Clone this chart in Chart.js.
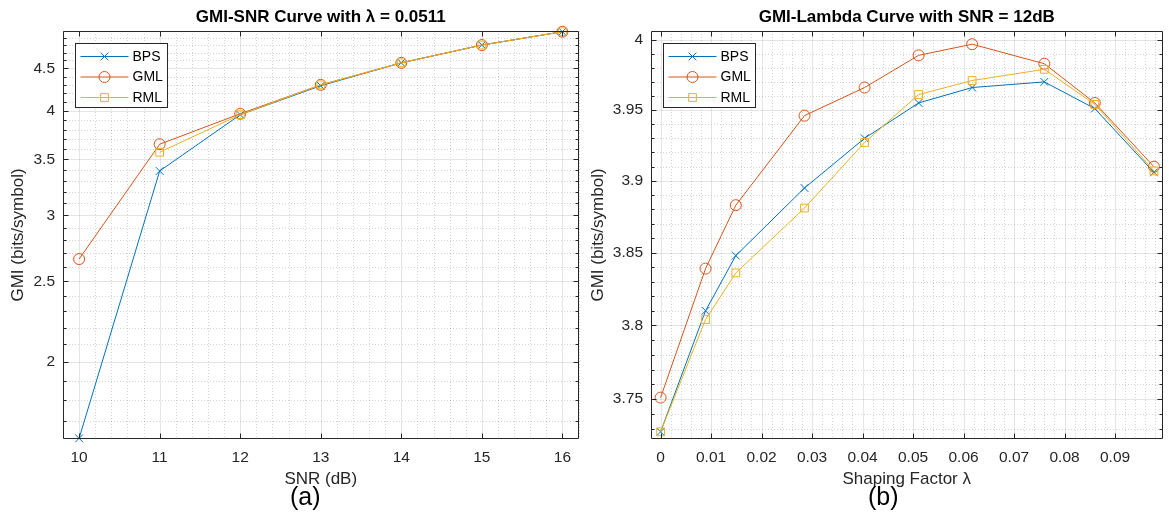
<!DOCTYPE html>
<html>
<head>
<meta charset="utf-8">
<script src="https://cdn.jsdelivr.net/npm/chart.js@4.4.1/dist/chart.umd.min.js"></script>
<style>
  body { margin: 0; background: #fff; width: 1169px; height: 516px; position: relative; overflow: hidden; font-family: 'Liberation Sans', Arial, sans-serif; }
  .panel { position: absolute; top: 0; height: 516px; }
  #wrapA { left: 0; width: 585px; }
  #wrapB { left: 585px; width: 584px; }
  .cap { position: absolute; top: 484px; font-size: 25px; line-height: 25px; color: #000; }
  #capA { left: 290px; }
  #capB { left: 868px; }
</style>
</head>
<body>
<div class="panel" id="wrapA"><canvas id="snrChart"></canvas></div>
<div class="panel" id="wrapB"><canvas id="lambdaChart"></canvas></div>
<div class="cap" id="capA">(a)</div>
<div class="cap" id="capB">(b)</div>
<script>
// (a) GMI vs SNR, lambda = 0.0511
const snrValues = [10, 11, 12, 13, 14, 15, 16];
const snrBPS = [1.62, 3.39, 3.96, 4.29, 4.57, 4.80, 4.98];
const snrGML = [2.658, 3.65, 3.97, 4.30, 4.57, 4.80, 4.98];
const snrRML = [null, 3.57, 3.96, 4.30, 4.57, 4.80, 4.98];
const snrTicks = [10, 11, 12, 13, 14, 15, 16];
const snrGmiTicks = [2, 2.5, 3, 3.5, 4, 4.5];

// (b) GMI vs shaping factor, SNR = 12dB
const lambdaValues = [0, 0.0089, 0.0149, 0.0285, 0.0404, 0.0511, 0.0617, 0.0760, 0.0860, 0.0977];
const lambdaBPS = [3.728, 3.810, 3.848, 3.895, 3.930, 3.955, 3.966, 3.970, 3.951, 3.906];
const lambdaGML = [3.751, 3.839, 3.883, 3.946, 3.966, 3.989, 3.997, 3.983, 3.955, 3.910];
const lambdaRML = [3.728, 3.804, 3.836, 3.881, 3.927, 3.961, 3.971, 3.979, 3.954, 3.907];
const lambdaTicks = [0, 0.01, 0.02, 0.03, 0.04, 0.05, 0.06, 0.07, 0.08, 0.09];
const lambdaGmiTicks = [3.75, 3.8, 3.85, 3.9, 3.95, 4];

const seriesNames = ['BPS', 'GML', 'RML'];
const seriesColors = ['#0072BD', '#D95319', '#EDB120'];
const seriesMarkers = ['crossRot', 'circle', 'rect'];

Chart.defaults.font.family = "'Liberation Sans', Arial, Helvetica, sans-serif";
Chart.defaults.color = '#262626';

function steps(min, max, step) {
  const out = [];
  for (let k = Math.ceil(min / step - 1e-9); k * step <= max + 1e-12; k++) out.push(k * step);
  return out;
}

// matlab style grid, box, inward ticks and legend
const matlabAxes = {
  id: 'matlabAxes',
  beforeDatasetsDraw(chart, args, o) {
    const { ctx, chartArea: a } = chart;
    const xs = chart.scales.x, ys = chart.scales.y;
    const xMaj = xs.ticks.map(t => t.value), yMaj = ys.ticks.map(t => t.value);
    const near = (arr, v, eps) => arr.some(m => Math.abs(m - v) < eps);
    ctx.save();
    ctx.lineWidth = 1;
    ctx.strokeStyle = 'rgba(38,38,38,0.2)';
    ctx.setLineDash([1, 2]);
    ctx.beginPath();
    steps(xs.min, xs.max, o.xMinor).forEach(v => {
      if (near(xMaj, v, o.xMinor / 10)) return;
      const px = Math.round(xs.getPixelForValue(v)) + 0.5;
      ctx.moveTo(px, a.top); ctx.lineTo(px, a.bottom);
    });
    steps(ys.min, ys.max, o.yMinor).forEach(v => {
      if (near(yMaj, v, o.yMinor / 10)) return;
      const py = Math.round(ys.getPixelForValue(v)) + 0.5;
      ctx.moveTo(a.left, py); ctx.lineTo(a.right, py);
    });
    ctx.stroke();
    ctx.setLineDash([]);
    ctx.strokeStyle = 'rgba(38,38,38,0.12)';
    ctx.beginPath();
    xMaj.forEach(v => {
      const px = Math.round(xs.getPixelForValue(v)) + 0.5;
      ctx.moveTo(px, a.top); ctx.lineTo(px, a.bottom);
    });
    yMaj.forEach(v => {
      const py = Math.round(ys.getPixelForValue(v)) + 0.5;
      ctx.moveTo(a.left, py); ctx.lineTo(a.right, py);
    });
    ctx.stroke();
    ctx.restore();
  },
  afterDatasetsDraw(chart, args, o) {
    const { ctx, chartArea: a } = chart;
    const xs = chart.scales.x, ys = chart.scales.y;
    const L = Math.round(a.left) + 0.5, R = Math.round(a.right) - 0.5;
    const T = Math.round(a.top) + 0.5, B = Math.round(a.bottom) - 0.5;
    ctx.save();
    ctx.strokeStyle = '#262626';
    ctx.lineWidth = 1;
    ctx.beginPath();
    ctx.rect(L, T, R - L, B - T);
    xs.ticks.forEach(t => {
      const px = Math.round(xs.getPixelForValue(t.value)) + 0.5;
      ctx.moveTo(px, B); ctx.lineTo(px, B - 5);
      ctx.moveTo(px, T); ctx.lineTo(px, T + 5);
    });
    steps(ys.min, ys.max, o.yMinor).forEach(v => {
      const major = ys.ticks.some(t => Math.abs(t.value - v) < o.yMinor / 10);
      const len = major ? 5 : 3;
      const py = Math.round(ys.getPixelForValue(v)) + 0.5;
      ctx.moveTo(L, py); ctx.lineTo(L + len, py);
      ctx.moveTo(R, py); ctx.lineTo(R - len, py);
    });
    ctx.stroke();

    // legend box
    const bx = Math.round(a.left) + 12.5, by = Math.round(a.top) + 12.5;
    ctx.fillStyle = '#fff';
    ctx.fillRect(bx, by, 92, 64);
    ctx.strokeRect(bx, by, 92, 64);
    chart.data.datasets.forEach((ds, i) => {
      const ey = by + 13 + i * 20.5;
      ctx.strokeStyle = ds.borderColor;
      ctx.lineWidth = 1.2;
      ctx.beginPath();
      ctx.moveTo(bx + 5, ey); ctx.lineTo(bx + 53, ey);
      ctx.stroke();
      ctx.fillStyle = 'rgba(0,0,0,0)';
      ctx.lineWidth = 1;
      Chart.helpers.drawPoint(ctx, { pointStyle: ds.pointStyle, radius: 5.5, rotation: 0, borderWidth: 1 }, bx + 29, ey);
      ctx.fillStyle = '#000';
      ctx.font = "14px 'Liberation Sans', Arial, sans-serif";
      ctx.textBaseline = 'middle';
      ctx.textAlign = 'left';
      ctx.fillText(ds.label, bx + 57, ey + 0.5);
    });
    ctx.restore();
  }
};

function makeSets(xv, ys) {
  return ys.map((arr, i) => ({
    label: seriesNames[i],
    data: xv.map((x, j) => ({ x: x, y: arr[j] })),
    borderColor: seriesColors[i],
    backgroundColor: 'rgba(0,0,0,0)',
    pointBackgroundColor: 'rgba(0,0,0,0)',
    pointBorderColor: seriesColors[i],
    pointStyle: seriesMarkers[i],
    pointRadius: 5.5,
    pointHoverRadius: 5.5,
    pointBorderWidth: 1,
    borderWidth: 1,
    tension: 0,
    clip: false,
    order: 3 - i
  }));
}

function makeChart(id, cfg) {
  return new Chart(document.getElementById(id), {
    type: 'line',
    data: { datasets: makeSets(cfg.xv, cfg.series) },
    plugins: [matlabAxes],
    options: {
      responsive: true,
      maintainAspectRatio: false,
      animation: false,
      layout: { padding: { left: 0, right: cfg.padRight, top: 0, bottom: 26 } },
      plugins: {
        legend: { display: false },
        tooltip: { enabled: false },
        title: {
          display: true, text: cfg.title, fullSize: false, color: '#000',
          font: { size: 17, weight: 'bold' }, padding: { top: 7, bottom: 3.6 }
        },
        matlabAxes: { xMinor: cfg.xMinor, yMinor: cfg.yMinor }
      },
      scales: {
        x: {
          type: 'linear', min: cfg.xMin, max: cfg.xMax, bounds: 'data',
          afterBuildTicks: s => { s.ticks = cfg.xTicks.map(v => ({ value: v })); },
          afterFit: s => { s.height = 51; },
          ticks: { padding: 9, font: { size: 15.5 }, maxRotation: 0, autoSkip: false, callback: v => String(v) },
          grid: { display: false, drawTicks: false },
          border: { display: false },
          title: { display: true, text: cfg.xTitle, font: { size: 17 }, padding: { top: 0, bottom: 0 } }
        },
        y: {
          type: 'logarithmic', min: cfg.yMin, max: cfg.yMax, bounds: 'data',
          afterBuildTicks: s => { s.ticks = cfg.yTicks.map(v => ({ value: v })); },
          afterFit: s => { s.width = cfg.yWidth; },
          ticks: { padding: 8, font: { size: 15.5 }, autoSkip: false, callback: v => String(v) },
          grid: { display: false, drawTicks: false },
          border: { display: false },
          title: { display: true, text: 'GMI (bits/symbol)', font: { size: 17 }, padding: { top: cfg.yTitlePad, bottom: 0 } }
        }
      }
    }
  });
}

makeChart('snrChart', {
  xv: snrValues, series: [snrBPS, snrGML, snrRML],
  title: 'GMI-SNR Curve with \u03bb = 0.0511',
  xTitle: 'SNR (dB)',
  xMin: 9.8, xMax: 16.2, xTicks: snrTicks, xMinor: 0.2,
  yMin: 1.617, yMax: 4.99, yTicks: snrGmiTicks, yMinor: 0.1,
  yWidth: 63, yTitlePad: 8, padRight: 3
});

makeChart('lambdaChart', {
  xv: lambdaValues, series: [lambdaBPS, lambdaGML, lambdaRML],
  title: 'GMI-Lambda Curve with SNR = 12dB',
  xTitle: 'Shaping Factor \u03bb',
  xMin: -0.0019, xMax: 0.0994, xTicks: lambdaTicks, xMinor: 0.002,
  yMin: 3.7232, yMax: 4.0065, yTicks: lambdaGmiTicks, yMinor: 0.01,
  yWidth: 66, yTitlePad: 3, padRight: 2
});
</script>
</body>
</html>
